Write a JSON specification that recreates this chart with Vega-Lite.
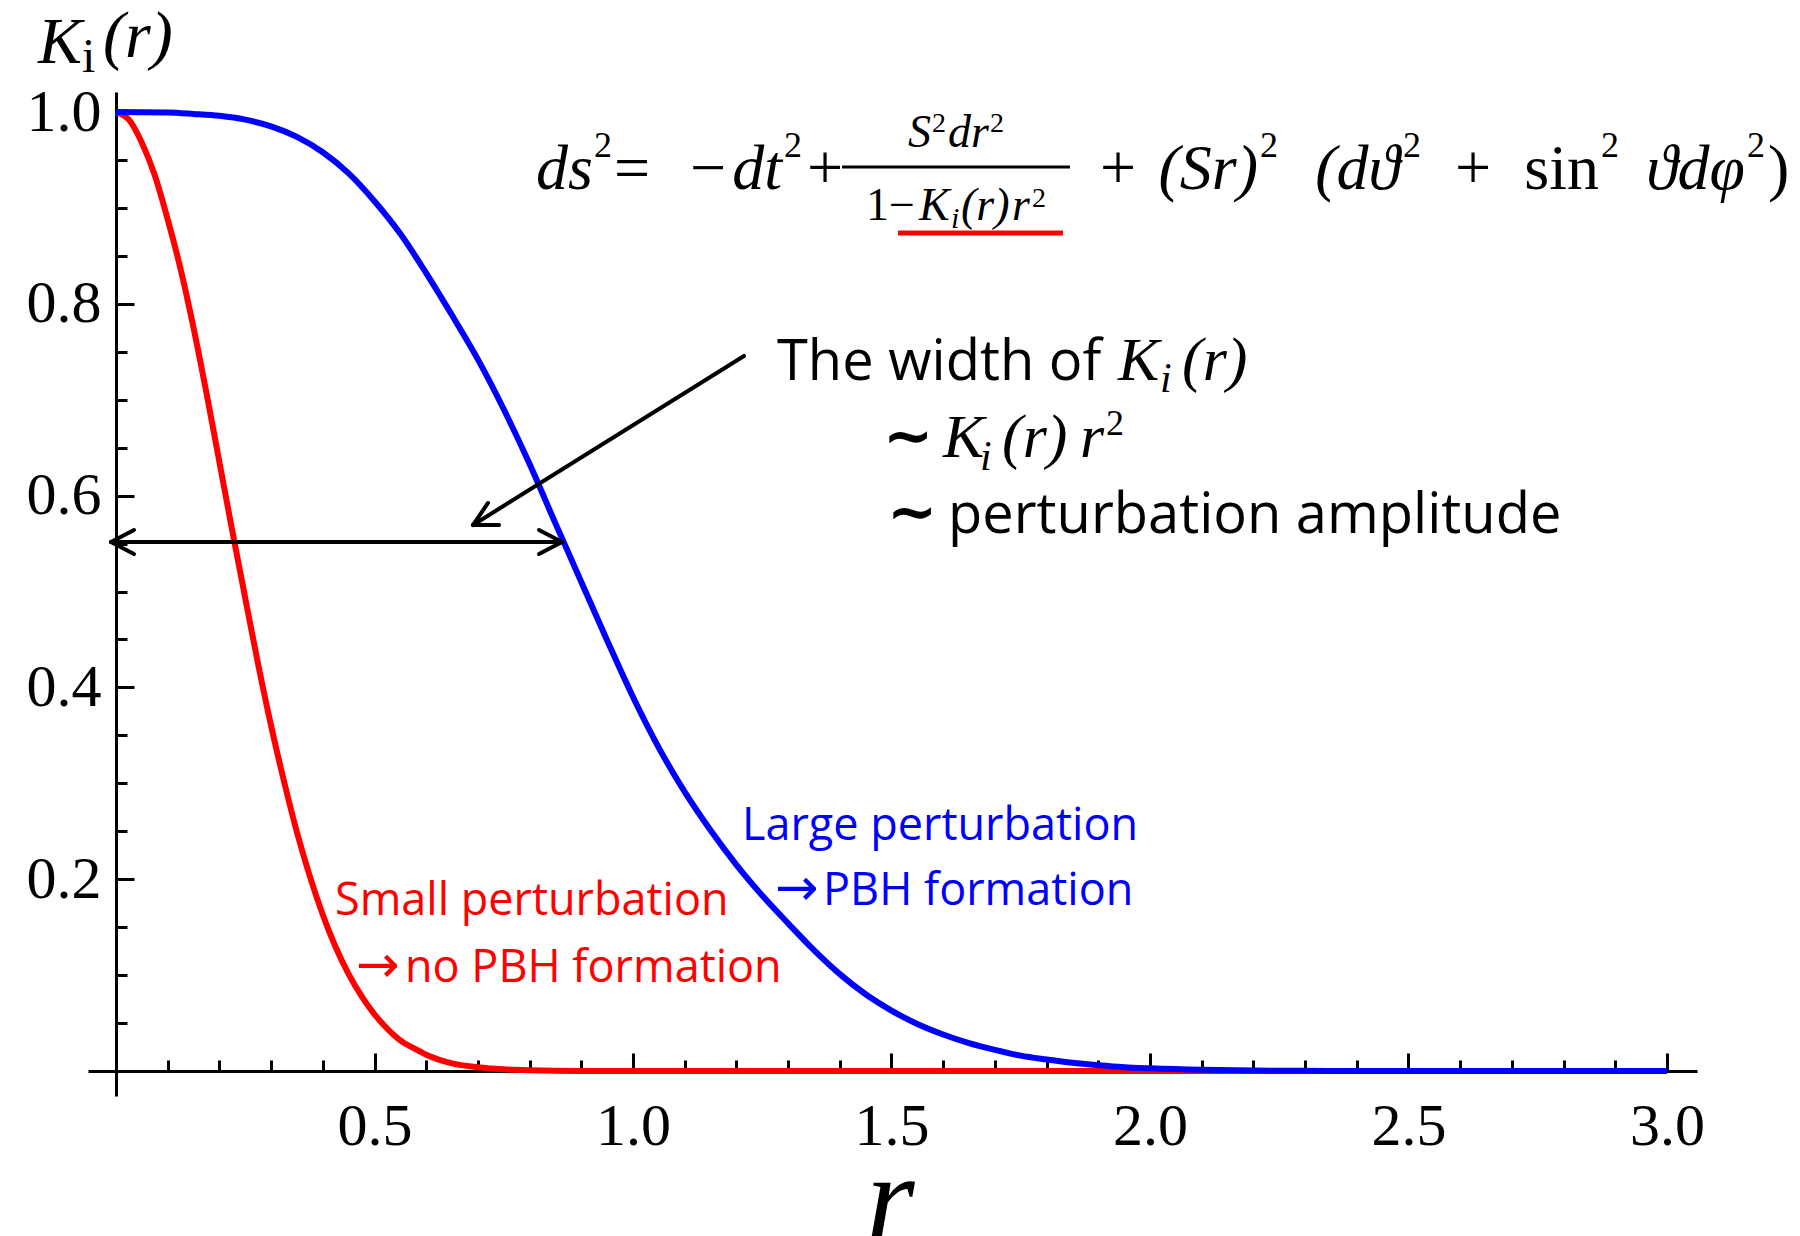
{
  "$schema": "https://vega.github.io/schema/vega-lite/v6.json",
  "width": 1609,
  "height": 1004,
  "padding": {"left": 88, "top": 92, "right": 103, "bottom": 140},
  "autosize": {"type": "none"},
  "background": "white",
  "config": {"view": {"stroke": null}},
  "datasets": {
    "profiles": [
      {"r": 0, "K": 1, "perturbation": "small"},
      {"r": 0.025, "K": 0.992, "perturbation": "small"},
      {"r": 0.05, "K": 0.968, "perturbation": "small"},
      {"r": 0.075, "K": 0.934, "perturbation": "small"},
      {"r": 0.1, "K": 0.888, "perturbation": "small"},
      {"r": 0.125, "K": 0.836, "perturbation": "small"},
      {"r": 0.15, "K": 0.775, "perturbation": "small"},
      {"r": 0.175, "K": 0.707, "perturbation": "small"},
      {"r": 0.2, "K": 0.635, "perturbation": "small"},
      {"r": 0.225, "K": 0.563, "perturbation": "small"},
      {"r": 0.25, "K": 0.493, "perturbation": "small"},
      {"r": 0.275, "K": 0.424, "perturbation": "small"},
      {"r": 0.3, "K": 0.36, "perturbation": "small"},
      {"r": 0.325, "K": 0.302, "perturbation": "small"},
      {"r": 0.35, "K": 0.249, "perturbation": "small"},
      {"r": 0.375, "K": 0.203, "perturbation": "small"},
      {"r": 0.4, "K": 0.163, "perturbation": "small"},
      {"r": 0.425, "K": 0.129, "perturbation": "small"},
      {"r": 0.45, "K": 0.101, "perturbation": "small"},
      {"r": 0.475, "K": 0.078, "perturbation": "small"},
      {"r": 0.5, "K": 0.059, "perturbation": "small"},
      {"r": 0.525, "K": 0.044, "perturbation": "small"},
      {"r": 0.55, "K": 0.032, "perturbation": "small"},
      {"r": 0.575, "K": 0.024, "perturbation": "small"},
      {"r": 0.6, "K": 0.017, "perturbation": "small"},
      {"r": 0.65, "K": 0.008, "perturbation": "small"},
      {"r": 0.7, "K": 0.004, "perturbation": "small"},
      {"r": 0.75, "K": 0.0017, "perturbation": "small"},
      {"r": 0.8, "K": 0.0007, "perturbation": "small"},
      {"r": 0.9, "K": 0, "perturbation": "small"},
      {"r": 1.0, "K": 0, "perturbation": "small"},
      {"r": 1.5, "K": 0, "perturbation": "small"},
      {"r": 2.0, "K": 0, "perturbation": "small"},
      {"r": 2.5, "K": 0, "perturbation": "small"},
      {"r": 3.0, "K": 0, "perturbation": "small"},
      {"r": 0, "K": 1, "perturbation": "large"},
      {"r": 0.1, "K": 0.9995, "perturbation": "large"},
      {"r": 0.15, "K": 0.998, "perturbation": "large"},
      {"r": 0.2, "K": 0.996, "perturbation": "large"},
      {"r": 0.25, "K": 0.992, "perturbation": "large"},
      {"r": 0.3, "K": 0.985, "perturbation": "large"},
      {"r": 0.35, "K": 0.974, "perturbation": "large"},
      {"r": 0.4, "K": 0.958, "perturbation": "large"},
      {"r": 0.45, "K": 0.936, "perturbation": "large"},
      {"r": 0.5, "K": 0.907, "perturbation": "large"},
      {"r": 0.55, "K": 0.873, "perturbation": "large"},
      {"r": 0.6, "K": 0.832, "perturbation": "large"},
      {"r": 0.65, "K": 0.788, "perturbation": "large"},
      {"r": 0.7, "K": 0.742, "perturbation": "large"},
      {"r": 0.75, "K": 0.69, "perturbation": "large"},
      {"r": 0.8, "K": 0.633, "perturbation": "large"},
      {"r": 0.85, "K": 0.571, "perturbation": "large"},
      {"r": 0.9, "K": 0.51, "perturbation": "large"},
      {"r": 0.95, "K": 0.449, "perturbation": "large"},
      {"r": 1.0, "K": 0.39, "perturbation": "large"},
      {"r": 1.05, "K": 0.337, "perturbation": "large"},
      {"r": 1.1, "K": 0.291, "perturbation": "large"},
      {"r": 1.15, "K": 0.251, "perturbation": "large"},
      {"r": 1.2, "K": 0.215, "perturbation": "large"},
      {"r": 1.25, "K": 0.183, "perturbation": "large"},
      {"r": 1.3, "K": 0.154, "perturbation": "large"},
      {"r": 1.35, "K": 0.126, "perturbation": "large"},
      {"r": 1.4, "K": 0.101, "perturbation": "large"},
      {"r": 1.45, "K": 0.08, "perturbation": "large"},
      {"r": 1.5, "K": 0.063, "perturbation": "large"},
      {"r": 1.55, "K": 0.049, "perturbation": "large"},
      {"r": 1.6, "K": 0.038, "perturbation": "large"},
      {"r": 1.65, "K": 0.029, "perturbation": "large"},
      {"r": 1.7, "K": 0.022, "perturbation": "large"},
      {"r": 1.75, "K": 0.016, "perturbation": "large"},
      {"r": 1.8, "K": 0.012, "perturbation": "large"},
      {"r": 1.85, "K": 0.0085, "perturbation": "large"},
      {"r": 1.9, "K": 0.006, "perturbation": "large"},
      {"r": 1.95, "K": 0.004, "perturbation": "large"},
      {"r": 2.0, "K": 0.0028, "perturbation": "large"},
      {"r": 2.1, "K": 0.0012, "perturbation": "large"},
      {"r": 2.2, "K": 0.0005, "perturbation": "large"},
      {"r": 2.3, "K": 0.0002, "perturbation": "large"},
      {"r": 2.4, "K": 0, "perturbation": "large"},
      {"r": 2.5, "K": 0, "perturbation": "large"},
      {"r": 3.0, "K": 0, "perturbation": "large"}
    ],
    "arrows": [
      {"r": -0.0097, "K": 0.5516, "r2": 0.8627, "K2": 0.5516},
      {"r": -0.0097, "K": 0.5516, "r2": 0.0348, "K2": 0.5641},
      {"r": -0.0097, "K": 0.5516, "r2": 0.0348, "K2": 0.5391},
      {"r": 0.8627, "K": 0.5516, "r2": 0.8182, "K2": 0.5641},
      {"r": 0.8627, "K": 0.5516, "r2": 0.8182, "K2": 0.5391},
      {"r": 1.2147, "K": 0.7456, "r2": 0.6905, "K2": 0.5693},
      {"r": 0.6905, "K": 0.5693, "r2": 0.7408, "K2": 0.5693},
      {"r": 0.6905, "K": 0.5693, "r2": 0.7195, "K2": 0.5923}
    ],
    "metricBases": [
      {"label": "ds", "r": 0.9226, "K": 0.9197},
      {"label": "dt", "r": 1.2882, "K": 0.9197},
      {"label": "(Sr)", "r": 2.2089, "K": 0.9197},
      {"label": "(dϑ", "r": 2.4836, "K": 0.9197},
      {"label": "ϑdφ", "r": 3.1509, "K": 0.9197}
    ],
    "metricOperators": [
      {"label": "=", "r": 0.9632, "K": 0.9197},
      {"label": "−", "r": 1.1103, "K": 0.9197},
      {"label": "+", "r": 1.3366, "K": 0.9197},
      {"label": "+", "r": 1.9033, "K": 0.9197},
      {"label": "+", "r": 2.5899, "K": 0.9197},
      {"label": ")", "r": 3.1954, "K": 0.9197}
    ],
    "metricSin": [
      {"label": "sin", "r": 2.8685, "K": 0.9197}
    ],
    "superscript36": [
      {"label": "2", "r": 0.9246, "K": 0.9531},
      {"label": "2", "r": 1.2921, "K": 0.9531},
      {"label": "2", "r": 2.2128, "K": 0.9531},
      {"label": "2", "r": 2.4894, "K": 0.9531},
      {"label": "2", "r": 2.8723, "K": 0.9531},
      {"label": "2", "r": 3.1547, "K": 0.9531},
      {"label": "2", "r": 1.9149, "K": 0.6632}
    ],
    "italic62": [
      {"label": "K", "r": 1.9381, "K": 0.7205},
      {"label": "(r)", "r": 2.0619, "K": 0.7205},
      {"label": "K", "r": 1.5996, "K": 0.6403},
      {"label": "(r)", "r": 1.7137, "K": 0.6403},
      {"label": "r", "r": 1.8646, "K": 0.6403}
    ],
    "italic46": [
      {"label": "S", "r": 1.5319, "K": 0.9635},
      {"label": "dr", "r": 1.6093, "K": 0.9635},
      {"label": "K", "r": 1.5532, "K": 0.8874},
      {"label": "(r)", "r": 1.6344, "K": 0.8874},
      {"label": "r", "r": 1.7331, "K": 0.8874}
    ],
    "upright46": [
      {"label": "1−", "r": 1.4507, "K": 0.8874}
    ],
    "superscript28": [
      {"label": "2", "r": 1.5783, "K": 0.9791},
      {"label": "2", "r": 1.6905, "K": 0.9791},
      {"label": "2", "r": 1.7718, "K": 0.901}
    ],
    "subscript30": [
      {"label": "i", "r": 1.6151, "K": 0.879}
    ],
    "subscript42": [
      {"label": "i", "r": 2.0193, "K": 0.708},
      {"label": "i", "r": 1.6712, "K": 0.6263}
    ],
    "annotationSans": [
      {"label": "The width of", "r": 1.2785, "K": 0.7205},
      {"label": "perturbation amplitude", "r": 1.6093, "K": 0.561}
    ],
    "tildes": [
      {"label": "∼", "r": 1.4836, "K": 0.6413},
      {"label": "∼", "r": 1.4913, "K": 0.562}
    ],
    "smallNote": [
      {"label": "Small perturbation", "r": 0.4236, "K": 0.1627},
      {"label": "no PBH formation", "r": 0.559, "K": 0.0928}
    ],
    "smallArrow": [
      {"label": "→", "r": 0.4642, "K": 0.0928}
    ],
    "largeNote": [
      {"label": "Large perturbation", "r": 1.2108, "K": 0.2409},
      {"label": "PBH formation", "r": 1.3675, "K": 0.1731}
    ],
    "largeArrow": [
      {"label": "→", "r": 1.2746, "K": 0.1731}
    ],
    "yTitleItalic": [
      {"label": "K", "r": -0.1509, "K": 1.0511},
      {"label": "(r)", "r": -0.0251, "K": 1.0574}
    ],
    "yTitleSub": [
      {"label": "i", "r": -0.0658, "K": 1.0417}
    ],
    "xTitle": [
      {"label": "r", "r": 1.4507, "K": -0.1762}
    ]
  },
  "encoding": {
    "x": {"field": "r", "type": "quantitative", "scale": {"domain": [-0.05416, 3.05803], "nice": false, "zero": false}, "axis": null},
    "y": {"field": "K", "type": "quantitative", "scale": {"domain": [-0.02607, 1.02086], "nice": false, "zero": false}, "axis": null}
  },
  "layer": [
    {
      "data": {"name": "profiles"},
      "transform": [{"filter": "datum.perturbation === 'small'"}],
      "mark": {"type": "line", "color": "#ff0000", "strokeWidth": 6, "interpolate": "monotone"},
      "encoding": {
        "x": {
          "field": "r", "type": "quantitative",
          "scale": {"domain": [-0.05416, 3.05803], "nice": false, "zero": false},
          "axis": {
            "orient": "bottom", "offset": -25, "title": null, "grid": false,
            "values": [0.5, 1, 1.5, 2, 2.5, 3], "format": ".1f",
            "domainColor": "#000000", "domainWidth": 3, "domainCap": "butt",
            "tickColor": "#000000", "tickWidth": 3, "tickSize": -18,
            "labelFont": "Liberation Serif", "labelFontSize": 60, "labelColor": "#000000",
            "labelPadding": 44, "labelFlush": false, "labelOverlap": false
          }
        },
        "y": {
          "field": "K", "type": "quantitative",
          "scale": {"domain": [-0.02607, 1.02086], "nice": false, "zero": false},
          "axis": {
            "orient": "left", "offset": -28, "title": null, "grid": false,
            "values": [0.2, 0.4, 0.6, 0.8, 1.0], "format": ".1f",
            "domainColor": "#000000", "domainWidth": 3, "domainCap": "butt",
            "tickColor": "#000000", "tickWidth": 3, "tickSize": -18,
            "labelFont": "Liberation Serif", "labelFontSize": 60, "labelColor": "#000000",
            "labelPadding": 33, "labelFlush": false, "labelOverlap": false
          }
        }
      }
    },
    {
      "data": {"name": "profiles"},
      "transform": [{"filter": "datum.perturbation === 'large'"}],
      "mark": {"type": "line", "color": "#0000ff", "strokeWidth": 6, "interpolate": "monotone"},
      "encoding": {
        "x": {
          "field": "r", "type": "quantitative",
          "scale": {"domain": [-0.05416, 3.05803], "nice": false, "zero": false},
          "axis": {
            "orient": "bottom", "offset": -25, "title": null, "grid": false,
            "domain": false, "labels": false,
            "values": [0.1, 0.2, 0.3, 0.4, 0.6, 0.7, 0.8, 0.9, 1.1, 1.2, 1.3, 1.4, 1.6, 1.7, 1.8, 1.9, 2.1, 2.2, 2.3, 2.4, 2.6, 2.7, 2.8, 2.9],
            "tickColor": "#000000", "tickWidth": 3, "tickSize": -11
          }
        },
        "y": {
          "field": "K", "type": "quantitative",
          "scale": {"domain": [-0.02607, 1.02086], "nice": false, "zero": false},
          "axis": {
            "orient": "left", "offset": -28, "title": null, "grid": false,
            "domain": false, "labels": false,
            "values": [0.05, 0.1, 0.15, 0.25, 0.3, 0.35, 0.45, 0.5, 0.55, 0.65, 0.7, 0.75, 0.85, 0.9, 0.95],
            "tickColor": "#000000", "tickWidth": 3, "tickSize": -11
          }
        }
      }
    },
    {
      "data": {"name": "arrows"},
      "mark": {"type": "rule", "color": "#000000", "strokeWidth": 4, "strokeCap": "round"},
      "encoding": {
        "x2": {"field": "r2"},
        "y2": {"field": "K2"}
      }
    },
    {
      "data": {"values": [{"r": 1.4043, "K": 0.9426, "r2": 1.8453}]},
      "mark": {"type": "rule", "color": "#000000", "strokeWidth": 3},
      "encoding": {"x2": {"field": "r2"}}
    },
    {
      "data": {"values": [{"r": 1.5126, "K": 0.8738, "r2": 1.8317}]},
      "mark": {"type": "rule", "color": "#ff0000", "strokeWidth": 5},
      "encoding": {"x2": {"field": "r2"}}
    },
    {
      "data": {"name": "metricBases"},
      "mark": {"type": "text", "align": "right", "baseline": "alphabetic", "font": "Liberation Serif", "fontStyle": "italic", "fontSize": 64, "color": "#000000"},
      "encoding": {"text": {"field": "label"}}
    },
    {
      "data": {"name": "metricOperators"},
      "mark": {"type": "text", "align": "left", "baseline": "alphabetic", "font": "Liberation Serif", "fontSize": 64, "color": "#000000"},
      "encoding": {"text": {"field": "label"}}
    },
    {
      "data": {"name": "metricSin"},
      "mark": {"type": "text", "align": "right", "baseline": "alphabetic", "font": "Liberation Serif", "fontSize": 64, "color": "#000000"},
      "encoding": {"text": {"field": "label"}}
    },
    {
      "data": {"name": "superscript36"},
      "mark": {"type": "text", "align": "left", "baseline": "alphabetic", "font": "Liberation Serif", "fontSize": 36, "color": "#000000"},
      "encoding": {"text": {"field": "label"}}
    },
    {
      "data": {"name": "italic62"},
      "mark": {"type": "text", "align": "left", "baseline": "alphabetic", "font": "Liberation Serif", "fontStyle": "italic", "fontSize": 62, "color": "#000000"},
      "encoding": {"text": {"field": "label"}}
    },
    {
      "data": {"name": "italic46"},
      "mark": {"type": "text", "align": "left", "baseline": "alphabetic", "font": "Liberation Serif", "fontStyle": "italic", "fontSize": 46, "color": "#000000"},
      "encoding": {"text": {"field": "label"}}
    },
    {
      "data": {"name": "upright46"},
      "mark": {"type": "text", "align": "left", "baseline": "alphabetic", "font": "Liberation Serif", "fontSize": 46, "color": "#000000"},
      "encoding": {"text": {"field": "label"}}
    },
    {
      "data": {"name": "superscript28"},
      "mark": {"type": "text", "align": "left", "baseline": "alphabetic", "font": "Liberation Serif", "fontSize": 28, "color": "#000000"},
      "encoding": {"text": {"field": "label"}}
    },
    {
      "data": {"name": "subscript30"},
      "mark": {"type": "text", "align": "left", "baseline": "alphabetic", "font": "Liberation Serif", "fontStyle": "italic", "fontSize": 30, "color": "#000000"},
      "encoding": {"text": {"field": "label"}}
    },
    {
      "data": {"name": "subscript42"},
      "mark": {"type": "text", "align": "left", "baseline": "alphabetic", "font": "Liberation Serif", "fontStyle": "italic", "fontSize": 42, "color": "#000000"},
      "encoding": {"text": {"field": "label"}}
    },
    {
      "data": {"name": "annotationSans"},
      "mark": {"type": "text", "align": "left", "baseline": "alphabetic", "font": "Open Sans", "fontSize": 56, "color": "#000000"},
      "encoding": {"text": {"field": "label"}}
    },
    {
      "data": {"name": "tildes"},
      "mark": {"type": "text", "align": "left", "baseline": "alphabetic", "font": "DejaVu Sans", "fontWeight": "bold", "fontSize": 60, "color": "#000000"},
      "encoding": {"text": {"field": "label"}}
    },
    {
      "data": {"name": "smallNote"},
      "mark": {"type": "text", "align": "left", "baseline": "alphabetic", "font": "Open Sans", "fontSize": 45, "color": "#ff0000"},
      "encoding": {"text": {"field": "label"}}
    },
    {
      "data": {"name": "smallArrow"},
      "mark": {"type": "text", "align": "left", "baseline": "alphabetic", "font": "DejaVu Sans", "fontSize": 52, "color": "#ff0000"},
      "encoding": {"text": {"field": "label"}}
    },
    {
      "data": {"name": "largeNote"},
      "mark": {"type": "text", "align": "left", "baseline": "alphabetic", "font": "Open Sans", "fontSize": 45, "color": "#0000ff"},
      "encoding": {"text": {"field": "label"}}
    },
    {
      "data": {"name": "largeArrow"},
      "mark": {"type": "text", "align": "left", "baseline": "alphabetic", "font": "DejaVu Sans", "fontSize": 52, "color": "#0000ff"},
      "encoding": {"text": {"field": "label"}}
    },
    {
      "data": {"name": "yTitleItalic"},
      "mark": {"type": "text", "align": "left", "baseline": "alphabetic", "font": "Liberation Serif", "fontStyle": "italic", "fontSize": 66, "color": "#000000"},
      "encoding": {"text": {"field": "label"}}
    },
    {
      "data": {"name": "yTitleSub"},
      "mark": {"type": "text", "align": "left", "baseline": "alphabetic", "font": "Liberation Serif", "fontSize": 48, "color": "#000000"},
      "encoding": {"text": {"field": "label"}}
    },
    {
      "data": {"name": "xTitle"},
      "mark": {"type": "text", "align": "left", "baseline": "alphabetic", "font": "Liberation Serif", "fontStyle": "italic", "fontSize": 125, "color": "#000000"},
      "encoding": {"text": {"field": "label"}}
    }
  ],
  "resolve": {"axis": {"x": "independent", "y": "independent"}}
}
